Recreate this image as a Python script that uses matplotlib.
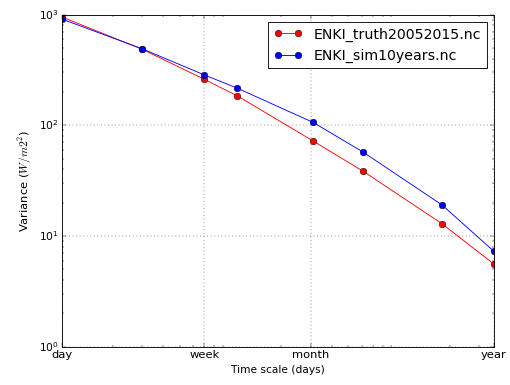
import matplotlib
matplotlib.use('Agg')
import matplotlib.pyplot as plt

### data ##########

days = [1, 3, 7, 11, 31, 61, 180, 365]
truth = [950, 485, 260, 184, 72, 38.6, 12.9, 5.6]
sim = [910, 490, 285, 216, 106, 57.5, 19.1, 7.3]
tick_pos = [1, 7, 30, 365]
tick_lab = ['day', 'week', 'month', 'year']

####################

plt.style.use('classic')

fig = plt.figure(figsize=(8, 6.04), dpi=63.75)
fig.subplots_adjust(left=0.1216, right=0.968, top=0.962, bottom=0.0995)
ax = fig.add_subplot(111)

ax.loglog(days, truth, 'o-', color='r', markersize=7.5, label='ENKI_truth20052015.nc')
ax.loglog(days, sim, 'o-', color='b', markersize=7.5, label='ENKI_sim10years.nc')

ax.set_xlim(1, 365)
ax.set_ylim(1, 1000)
ax.set_xticks(tick_pos)
ax.set_xticklabels(tick_lab)
ax.tick_params(axis='x', labelsize=13)
ax.grid(True)
ax.set_xlabel('Time scale (days)')
ax.set_ylabel('Variance ($W/m2^2$)', fontsize=13)
ax.legend(loc='upper right', fontsize=16)

fig.savefig('out.png', dpi=63.75, facecolor='w')
